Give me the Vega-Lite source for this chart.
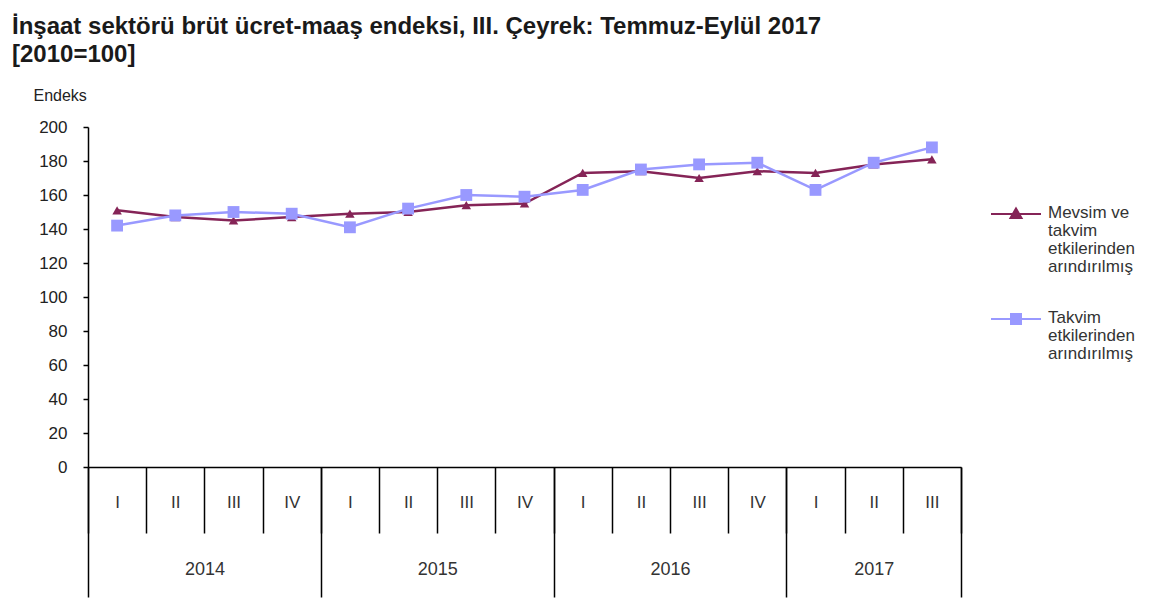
{
  "$schema": "https://vega.github.io/schema/vega-lite/v6.json",
  "width": 873,
  "height": 340,
  "autosize": {"type": "none"},
  "padding": {"left": 88, "top": 127, "right": 193, "bottom": 136},
  "background": "white",
  "title": {
    "text": ["İnşaat sektörü brüt ücret-maaş endeksi, III. Çeyrek: Temmuz-Eylül 2017", "[2010=100]"],
    "anchor": "start",
    "frame": "group",
    "dx": -76,
    "offset": 20,
    "font": "Liberation Sans",
    "fontSize": 24,
    "fontWeight": "bold",
    "color": "#1a1a1a",
    "lineHeight": 28
  },
  "config": {"view": {"stroke": null}, "font": "Liberation Sans"},
  "data": {
    "values": [
      {"donem": "2014 I", "seri": "Mevsim ve takvim etkilerinden arındırılmış", "endeks": 151},
      {"donem": "2014 II", "seri": "Mevsim ve takvim etkilerinden arındırılmış", "endeks": 147},
      {"donem": "2014 III", "seri": "Mevsim ve takvim etkilerinden arındırılmış", "endeks": 145},
      {"donem": "2014 IV", "seri": "Mevsim ve takvim etkilerinden arındırılmış", "endeks": 147},
      {"donem": "2015 I", "seri": "Mevsim ve takvim etkilerinden arındırılmış", "endeks": 149},
      {"donem": "2015 II", "seri": "Mevsim ve takvim etkilerinden arındırılmış", "endeks": 150},
      {"donem": "2015 III", "seri": "Mevsim ve takvim etkilerinden arındırılmış", "endeks": 154},
      {"donem": "2015 IV", "seri": "Mevsim ve takvim etkilerinden arındırılmış", "endeks": 155},
      {"donem": "2016 I", "seri": "Mevsim ve takvim etkilerinden arındırılmış", "endeks": 173},
      {"donem": "2016 II", "seri": "Mevsim ve takvim etkilerinden arındırılmış", "endeks": 174},
      {"donem": "2016 III", "seri": "Mevsim ve takvim etkilerinden arındırılmış", "endeks": 170},
      {"donem": "2016 IV", "seri": "Mevsim ve takvim etkilerinden arındırılmış", "endeks": 174},
      {"donem": "2017 I", "seri": "Mevsim ve takvim etkilerinden arındırılmış", "endeks": 173},
      {"donem": "2017 II", "seri": "Mevsim ve takvim etkilerinden arındırılmış", "endeks": 178},
      {"donem": "2017 III", "seri": "Mevsim ve takvim etkilerinden arındırılmış", "endeks": 181},
      {"donem": "2014 I", "seri": "Takvim etkilerinden arındırılmış", "endeks": 142},
      {"donem": "2014 II", "seri": "Takvim etkilerinden arındırılmış", "endeks": 148},
      {"donem": "2014 III", "seri": "Takvim etkilerinden arındırılmış", "endeks": 150},
      {"donem": "2014 IV", "seri": "Takvim etkilerinden arındırılmış", "endeks": 149},
      {"donem": "2015 I", "seri": "Takvim etkilerinden arındırılmış", "endeks": 141},
      {"donem": "2015 II", "seri": "Takvim etkilerinden arındırılmış", "endeks": 152},
      {"donem": "2015 III", "seri": "Takvim etkilerinden arındırılmış", "endeks": 160},
      {"donem": "2015 IV", "seri": "Takvim etkilerinden arındırılmış", "endeks": 159},
      {"donem": "2016 I", "seri": "Takvim etkilerinden arındırılmış", "endeks": 163},
      {"donem": "2016 II", "seri": "Takvim etkilerinden arındırılmış", "endeks": 175},
      {"donem": "2016 III", "seri": "Takvim etkilerinden arındırılmış", "endeks": 178},
      {"donem": "2016 IV", "seri": "Takvim etkilerinden arındırılmış", "endeks": 179},
      {"donem": "2017 I", "seri": "Takvim etkilerinden arındırılmış", "endeks": 163},
      {"donem": "2017 II", "seri": "Takvim etkilerinden arındırılmış", "endeks": 179},
      {"donem": "2017 III", "seri": "Takvim etkilerinden arındırılmış", "endeks": 188}
    ]
  },
  "layer": [
    {
      "mark": {"type": "line", "strokeWidth": 2.5},
      "encoding": {
        "x": {
          "field": "donem", "type": "nominal", "sort": null,
          "scale": {"type": "band", "paddingInner": 0, "paddingOuter": 0},
          "axis": {
            "orient": "bottom",
            "title": null,
            "domain": true, "domainColor": "#000", "domainWidth": 1.5,
            "ticks": true, "tickBand": "extent", "tickSize": 66, "tickColor": "#000", "tickWidth": 1.5,
            "labelExpr": "split(datum.value, ' ')[1]",
            "labelAngle": 0,
            "labelFont": "Liberation Sans", "labelFontSize": 17, "labelColor": "#333",
            "labelBaseline": "middle", "labelPadding": -31,
            "labelOverlap": false
          }
        },
        "y": {
          "field": "endeks", "type": "quantitative",
          "scale": {"domain": [0, 200], "nice": false, "zero": true},
          "axis": {
            "values": [0, 20, 40, 60, 80, 100, 120, 140, 160, 180, 200],
            "grid": false,
            "domain": true, "domainColor": "#000", "domainWidth": 1.5,
            "tickSize": 5, "tickColor": "#000", "tickWidth": 1.5,
            "labelFont": "Liberation Sans", "labelFontSize": 17, "labelColor": "#222", "labelPadding": 16,
            "title": "Endeks",
            "titleAngle": 0, "titleX": -55, "titleY": -32, "titleAlign": "left", "titleBaseline": "middle",
            "titleFont": "Liberation Sans", "titleFontSize": 16, "titleFontWeight": "normal", "titleColor": "#222"
          }
        },
        "color": {
          "field": "seri", "type": "nominal",
          "scale": {
            "domain": ["Mevsim ve takvim etkilerinden arındırılmış", "Takvim etkilerinden arındırılmış"],
            "range": ["#852457", "#9999FF"]
          },
          "legend": {
            "orient": "none", "legendX": 902, "legendY": 61,
            "title": null,
            "direction": "vertical",
            "symbolType": "M-1,0H1M-0.2,-0.2H0.2V0.2H-0.2Z",
            "symbolSize": 2500, "symbolStrokeWidth": 2,
            "labelFont": "Liberation Sans", "labelFontSize": 17, "labelColor": "#333",
            "labelOffset": 6, "labelLimit": 300, "rowPadding": 18,
            "labelBaseline": "top",
            "labelExpr": "datum.label == 'Mevsim ve takvim etkilerinden arındırılmış' ? ['Mevsim ve', 'takvim', 'etkilerinden', 'arındırılmış'] : ['Takvim', 'etkilerinden', 'arındırılmış']",
            "encode": {
              "symbols": {
                "update": {
                  "shape": {"signal": "datum.value == 'Mevsim ve takvim etkilerinden arındırılmış' ? 'M-1,0H1M0,-0.22L0.22,0.16H-0.22Z' : 'M-1,0H1M-0.2,-0.2H0.2V0.2H-0.2Z'"},
                  "fill": {"signal": "scale('color', datum.value)"},
                  "stroke": {"signal": "scale('color', datum.value)"},
                  "strokeWidth": {"value": 2},
                  "size": {"value": 2500},
                  "opacity": {"value": 1}
                }
              },
              "labels": {"update": {"lineHeight": {"value": 18}, "dy": {"value": -9}}}
            }
          }
        }
      }
    },
    {
      "transform": [{"filter": "datum.seri == 'Mevsim ve takvim etkilerinden arındırılmış'"}],
      "mark": {"type": "point", "filled": true, "opacity": 1, "shape": "triangle-up", "size": 90},
      "encoding": {
        "x": {"field": "donem", "type": "nominal", "sort": null, "axis": null},
        "y": {"field": "endeks", "type": "quantitative", "axis": null},
        "color": {"field": "seri", "type": "nominal", "legend": null}
      }
    },
    {
      "transform": [{"filter": "datum.seri == 'Takvim etkilerinden arındırılmış'"}],
      "mark": {"type": "point", "filled": true, "opacity": 1, "shape": "square", "size": 140},
      "encoding": {
        "x": {"field": "donem", "type": "nominal", "sort": null, "axis": null},
        "y": {"field": "endeks", "type": "quantitative", "axis": null},
        "color": {"field": "seri", "type": "nominal", "legend": null}
      }
    },
    {
      "mark": {"type": "line", "opacity": 0},
      "encoding": {
        "x": {
          "field": "donem", "type": "nominal", "sort": null,
          "axis": {
            "orient": "bottom",
            "title": null,
            "domain": false,
            "ticks": true, "tickBand": "extent", "tickSize": 130, "tickColor": "#000", "tickWidth": 1.5,
            "tickOpacity": {"condition": {"test": "datum.value == '2014 IV' || datum.value == '2015 IV' || datum.value == '2016 IV' || datum.value == '2017 III' || !isValid(datum.value)", "value": 1}, "value": 0},
            "labelExpr": "split(datum.value, ' ')[1] == 'II' ? split(datum.value, ' ')[0] : ''",
            "labelAngle": 0,
            "labelOffset": {"condition": {"test": "datum.value == '2017 II'", "value": 0}, "value": 29.1},
            "labelFont": "Liberation Sans", "labelFontSize": 18, "labelColor": "#333",
            "labelBaseline": "middle", "labelPadding": -28,
            "labelOverlap": false
          }
        },
        "y": {"field": "endeks", "type": "quantitative", "axis": null},
        "detail": {"field": "seri", "type": "nominal"}
      }
    }
  ],
  "resolve": {"axis": {"x": "independent", "y": "independent"}}
}
